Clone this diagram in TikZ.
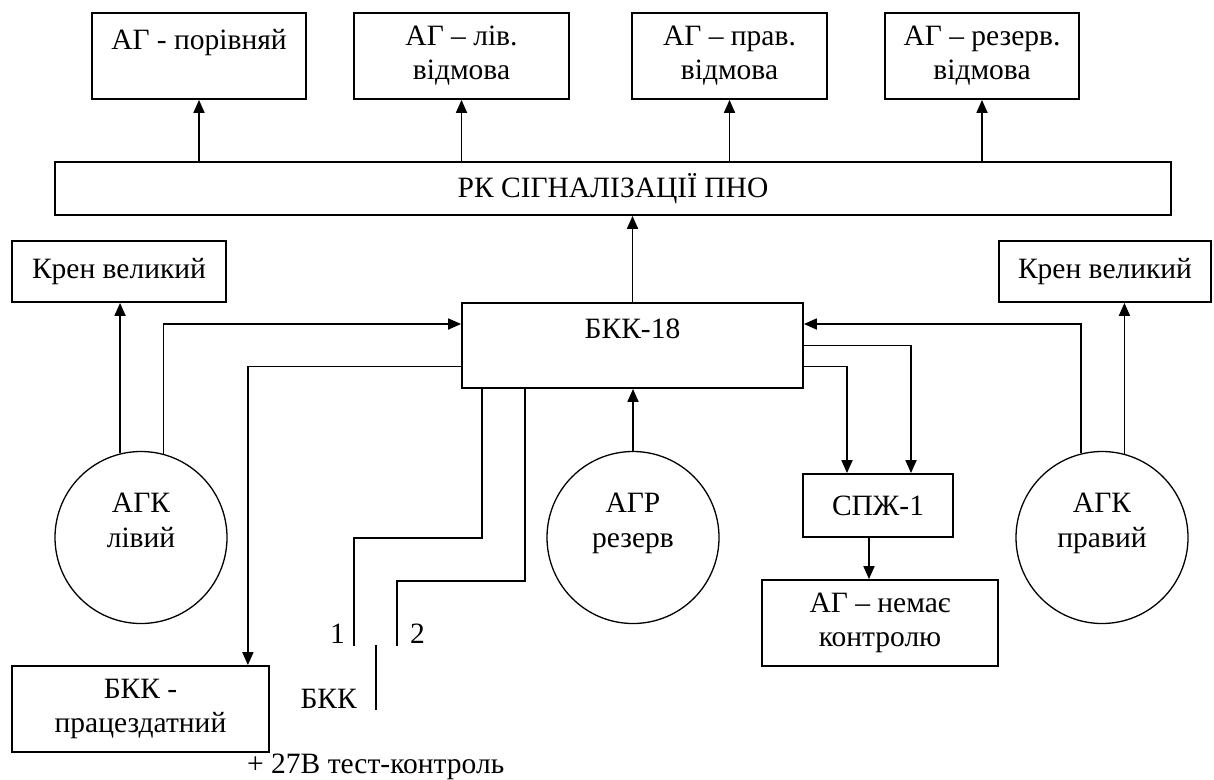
\documentclass[tikz,border=0pt]{standalone}
\usepackage{fontspec}
\setmainfont{Liberation Serif}
\usetikzlibrary{positioning,arrows.meta}

\begin{document}
\begin{tikzpicture}[x=1pt, y=-1pt,
  blok/.style={draw, line width=1.8pt, inner sep=0pt, align=center,
               font=\fontsize{29.5}{34}\selectfont},
  krug/.style={draw, circle, line width=1.3pt, minimum size=172pt, inner sep=0pt,
               align=center, font=\fontsize{29.5}{35}\selectfont},
  arrow/.style={-{Triangle[length=13pt,width=11pt]}, line width=1.8pt},
  wire/.style={line width=1.8pt},
  note/.style={inner sep=0pt, font=\fontsize{29.5}{34}\selectfont}
]
\useasboundingbox (0,0) rectangle (1214,779);

% top row
\node[blok, minimum width=214pt, minimum height=86pt] (agPor) at (199,56) {АГ - порівняй\\\mbox{}};
\node[blok, minimum width=215pt, minimum height=86pt] (agLiv) at (461.5,56) {АГ – лів.\\відмова};
\node[blok, minimum width=195pt, minimum height=86pt] (agPrav) at (729.5,56) {АГ – прав.\\відмова};
\node[blok, minimum width=194pt, minimum height=86pt] (agRez) at (982,56) {АГ – резерв.\\відмова};

\node[blok, minimum width=1116pt, minimum height=53pt] (rk) at (613,188.5) {РК СІГНАЛІЗАЦІЇ ПНО};

\node[blok, minimum width=214pt, minimum height=61pt] (krenL) at (119,271.5) {Крен великий};
\node[blok, minimum width=212pt, minimum height=61pt] (krenR) at (1105,271.5) {Крен великий};
\node[blok, minimum width=341pt, minimum height=85pt] (bkk) at (632.5,345.5) {БКК-18\\\mbox{}};

% gyros
\node[krug] (agkL) at (141,537.5) {АГК\\лівий\\\mbox{}};
\node[krug] (agr) at (633,537.5) {АГР\\резерв\\\mbox{}};
\node[krug] (agkR) at (1102,537.5) {АГК\\правий\\\mbox{}};

\node[blok, minimum width=150pt, minimum height=63pt] (spzh) at (878,505.5) {СПЖ-1};
\node[blok, minimum width=236pt, minimum height=86pt] (agNo) at (880,623) {АГ – немає\\контролю};
\node[blok, minimum width=257pt, minimum height=86pt] (bkkOk) at (140.5,709) {БКК -\\працездатний};

% switch
\coordinate (k1) at (354,646);
\coordinate (k2) at (397,646);
\coordinate (swTop) at (376,645);
\coordinate (swBot) at (376,710);
\node[note, anchor=base east] (n1) at (345,643) {1};
\node[note, anchor=base west] (n2) at (410,643) {2};
\node[note, anchor=base east] (bkkLbl) at (357,708) {БКК};
\node[note, anchor=base west] (test) at (247,773) {+ 27В тест-контроль};

\foreach \n in {agPor,agLiv,agPrav,agRez}
  \draw[arrow] (rk.north -| \n.south) -- (\n.south);
\draw[arrow] (bkk.north) -- (bkk.north |- rk.south);
\draw[arrow] (agr.north) -- (agr.north |- bkk.south);

\draw[arrow] (agkL.104.5) -- (agkL.104.5 |- krenL.south);
\draw[arrow] (agkL.75.5) |- ([yshift=21.5pt]bkk.west);
\draw[arrow] (agkR.75.5) -- (agkR.75.5 |- krenR.south);
\draw[arrow] (agkR.104.5) |- ([yshift=21.5pt]bkk.east);

\draw[arrow] ([yshift=-21pt]bkk.west) -| ([xshift=-22pt]bkkOk.north east);
\draw[arrow] (bkk.east) -| ([xshift=33pt]spzh.north);
\draw[arrow] ([yshift=-21pt]bkk.east) -| ([xshift=-31pt]spzh.north);
\draw[arrow] ([xshift=-9pt]spzh.south) -- ([xshift=-9pt]spzh.south |- agNo.north);

\draw[wire] ([xshift=21pt]bkk.south west) -- ++(0,149) -| (k1);
\draw[wire] ([xshift=64pt]bkk.south west) -- ++(0,192) -| (k2);
\draw[wire] (swTop) -- (swBot);

\end{tikzpicture}
\end{document}
